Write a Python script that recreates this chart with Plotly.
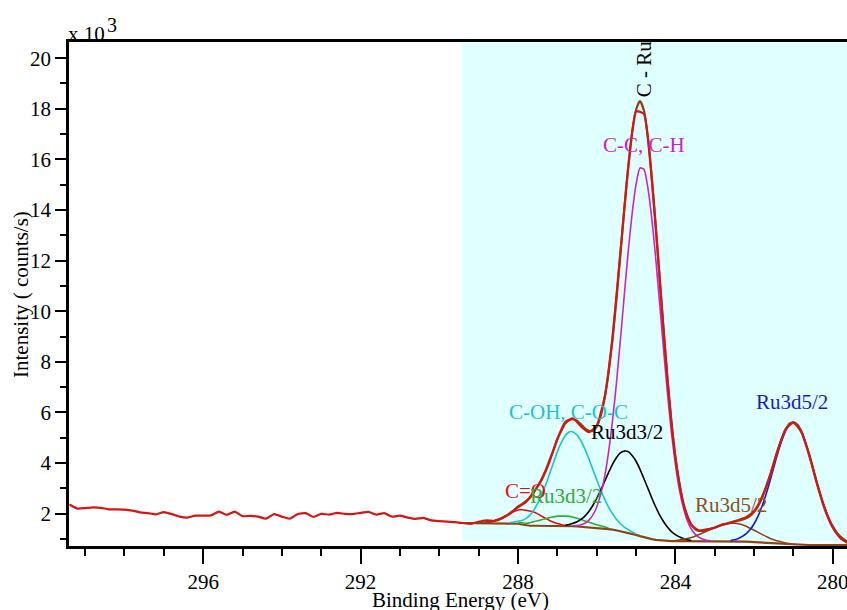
import numpy as np
import plotly.graph_objects as go

# ---------------- data (intensity in thousands of counts/s) ----------------
raw_energy = np.round(299.4 - 0.2 * np.arange(100), 1)
raw_counts = [
    2.36, 2.20, 2.22, 2.25, 2.23, 2.17, 2.17, 2.16, 2.12, 2.05,
    2.02, 1.97, 2.06, 1.98, 1.88, 1.84, 1.92, 1.92, 1.93, 2.08,
    1.95, 2.08, 1.90, 1.91, 1.88, 1.80, 1.98, 1.88, 1.80, 1.98,
    2.02, 1.87, 1.99, 1.96, 2.03, 1.99, 1.98, 2.03, 2.07, 1.96,
    2.02, 1.88, 1.92, 1.84, 1.79, 1.83, 1.73, 1.70, 1.68, 1.66,
    1.63, 1.59, 1.68, 1.73, 1.71, 1.82, 2.00, 2.26, 2.45, 2.86,
    3.34, 4.05, 4.95, 5.62, 5.76, 5.45, 5.22, 5.48, 6.60, 8.95,
    12.30, 15.65, 17.90, 17.80, 15.20, 11.30, 7.30, 4.20, 2.40, 1.56,
    1.33, 1.38, 1.44, 1.58, 1.63, 1.75, 1.86, 2.10, 2.66, 3.50,
    4.52, 5.33, 5.60, 5.22, 4.30, 3.15, 2.15, 1.44, 1.02, 0.82,
]

fit_start = 289.5
fit_energy = np.round(fit_start - 0.1 * np.arange(100), 1)
background = [
    1.63, 1.63, 1.63, 1.63, 1.63, 1.63, 1.63, 1.63,
    1.62, 1.62, 1.62, 1.62, 1.62, 1.62,
    1.61, 1.60, 1.57, 1.53,
    1.52, 1.52, 1.52, 1.52,
    1.51, 1.51, 1.51, 1.51,
    1.50, 1.50, 1.50, 1.50,
    1.49, 1.48, 1.47, 1.46, 1.45, 1.44, 1.43, 1.41, 1.39, 1.37,
    1.34, 1.31, 1.27, 1.24, 1.20, 1.16, 1.11, 1.06, 1.02, 0.99,
    0.96, 0.94, 0.93, 0.92, 0.91,
    0.91, 0.91, 0.91, 0.91, 0.91, 0.91, 0.91, 0.91, 0.91, 0.91, 0.91,
    0.90, 0.90, 0.90, 0.90, 0.90, 0.90, 0.90,
    0.89, 0.88, 0.87, 0.86, 0.85, 0.84, 0.83, 0.82, 0.81, 0.80, 0.79, 0.79, 0.78,
    0.77, 0.77, 0.76, 0.76, 0.76, 0.76, 0.76, 0.76, 0.76, 0.76, 0.76, 0.76, 0.76, 0.76,
]

# component heights above background, 0.1 eV steps starting at the given energy
co_start = 288.8
co_height = [0.04, 0.06, 0.10, 0.15, 0.22, 0.30, 0.38, 0.47, 0.54, 0.58, 0.60,
             0.58, 0.54, 0.47, 0.38, 0.30, 0.22, 0.15, 0.10, 0.06, 0.04]
ru33_small_start = 288.0
ru33_small_height = [0.045, 0.065, 0.09, 0.12, 0.16, 0.20, 0.24, 0.29, 0.33, 0.36, 0.39, 0.40,
                     0.40, 0.39, 0.36, 0.33, 0.29, 0.24, 0.20, 0.16, 0.12, 0.09, 0.065, 0.045]
coh_start = 288.2
coh_height = [0.03, 0.06, 0.10, 0.16, 0.27, 0.41, 0.62, 0.88, 1.22, 1.61, 2.05, 2.50, 2.94,
              3.31, 3.58, 3.73, 3.73, 3.62, 3.39, 3.08, 2.71, 2.30, 1.90, 1.51, 1.17, 0.87,
              0.63, 0.44, 0.30, 0.20, 0.13, 0.08, 0.04]
ru33_start = 286.8
ru33_height = [0.04, 0.07, 0.12, 0.19, 0.29, 0.43, 0.62, 0.87, 1.16, 1.49, 1.86, 2.23, 2.58,
               2.87, 3.09, 3.20, 3.21, 3.10, 2.91, 2.64, 2.32, 1.98, 1.63, 1.30, 1.00, 0.75,
               0.54, 0.38, 0.26, 0.17, 0.11, 0.06, 0.03]
cc_start = 286.6
cc_height = [0.02, 0.04, 0.08, 0.15, 0.28, 0.49, 0.82, 1.33, 2.04, 3.03, 4.28, 5.80, 7.53,
             9.35, 11.12, 12.66, 13.85, 14.55, 14.55, 13.85, 12.66, 11.12, 9.35, 7.53, 5.80,
             4.28, 3.03, 2.04, 1.33, 0.82, 0.49, 0.28, 0.15, 0.08, 0.04, 0.02]
ru35_small_start = 284.0
ru35_small_height = [0.03, 0.05, 0.08, 0.11, 0.15, 0.20, 0.26, 0.33, 0.40, 0.47, 0.54, 0.61,
                     0.66, 0.70, 0.72, 0.72, 0.70, 0.66, 0.61, 0.54, 0.47, 0.40, 0.33, 0.26,
                     0.20, 0.15, 0.11, 0.08, 0.05, 0.03]
ru35_start = 282.6
ru35_height = [0.04, 0.07, 0.12, 0.20, 0.32, 0.49, 0.73, 1.04, 1.44, 1.91, 2.44, 3.01, 3.57,
               4.07, 4.48, 4.74, 4.83, 4.74, 4.48, 4.07, 3.57, 3.01, 2.44, 1.91, 1.44, 1.04,
               0.73, 0.49, 0.32, 0.20, 0.12]

x_major_ticks = [296, 292, 288, 284, 280]

# ---------------- build figure ----------------
FONT = "Liberation Serif, Times New Roman, serif"
bg = np.array(background)

components = [
    (co_start, co_height, "#e01010"),
    (ru33_small_start, ru33_small_height, "#33aa33"),
    (coh_start, coh_height, "#1cc4c4"),
    (ru33_start, ru33_height, "#000000"),
    (cc_start, cc_height, "#cc22cc"),
    (ru35_small_start, ru35_small_height, "#8b4513"),
    (ru35_start, ru35_height, "#1a1acc"),
]

fig = go.Figure()
envelope = bg.copy()
comp_traces = []
for start, heights, color in components:
    i0 = int(round((fit_start - start) / 0.1))
    idx = np.arange(i0, i0 + len(heights))
    envelope[idx] += np.array(heights)
    comp_traces.append(go.Scatter(
        x=fit_energy[idx], y=bg[idx] + np.array(heights), mode="lines",
        line=dict(color=color, width=1.6, shape="spline", smoothing=0.6),
        hoverinfo="skip", showlegend=False))

fig.add_trace(go.Scatter(x=fit_energy, y=bg, mode="lines",
                         line=dict(color="#8b4513", width=2.2),
                         hoverinfo="skip", showlegend=False))
for tr in comp_traces:
    fig.add_trace(tr)
fig.add_trace(go.Scatter(x=fit_energy, y=envelope, mode="lines",
                         line=dict(color="#8b4513", width=2.2, shape="spline", smoothing=0.6),
                         hoverinfo="skip", showlegend=False))
fig.add_trace(go.Scatter(x=raw_energy, y=raw_counts, mode="lines",
                         line=dict(color="#d41616", width=2.2, shape="spline", smoothing=0.5),
                         hoverinfo="skip", showlegend=False))

# shaded fit region
fig.add_shape(type="rect", xref="x", yref="y", x0=289.42, x1=279.64, y0=0.91, y1=20.64,
              fillcolor="#e0ffff", line=dict(width=0), layer="below")

labels = [
    ("C - Ru", 284.81, 19.58, "#000000", -90),
    ("C-C, C-H", 284.80, 16.58, "#cc22cc", 0),
    ("C-OH, C-O-C", 286.71, 6.03, "#1cc4c4", 0),
    ("Ru3d3/2", 285.24, 5.24, "#000000", 0),
    ("C=O", 287.82, 2.91, "#e01010", 0),
    ("Ru3d3/2", 286.78, 2.71, "#33aa33", 0),
    ("Ru3d5/2", 282.58, 2.36, "#8b5220", 0),
    ("Ru3d5/2", 281.05, 6.43, "#1a1acc", 0),
]
for text, xx, yy, col, ang in labels:
    fig.add_annotation(x=xx, y=yy, xref="x", yref="y", text=text, showarrow=False,
                       textangle=ang, xanchor="center", yanchor="middle",
                       font=dict(family=FONT, size=21, color=col))

# axis titles and multiplier
fig.add_annotation(x=-0.0617, y=0.5, xref="paper", yref="paper",
                   text="Intensity ( counts/s)", showarrow=False, textangle=-90,
                   xanchor="center", yanchor="middle",
                   font=dict(family=FONT, size=21, color="black"))
fig.add_annotation(x=0.5026, y=-0.080, xref="paper", yref="paper",
                   text="Binding Energy (eV)", showarrow=False,
                   xanchor="center", yanchor="top",
                   font=dict(family=FONT, size=21, color="black"))
fig.add_annotation(x=-0.002, y=0.99, xref="paper", yref="paper",
                   text="x 10", showarrow=False, xanchor="left", yanchor="bottom",
                   borderpad=0, font=dict(family=FONT, size=21, color="black"))
fig.add_annotation(x=0.0476, y=1.009, xref="paper", yref="paper",
                   text="3", showarrow=False, xanchor="left", yanchor="bottom",
                   borderpad=0, font=dict(family=FONT, size=20, color="black"))

fig.update_layout(
    width=847, height=610,
    margin=dict(l=69, r=0, t=42, b=64, pad=0, autoexpand=False),
    paper_bgcolor="white", plot_bgcolor="white",
    showlegend=False,
    font=dict(family=FONT, size=21, color="black"),
    xaxis=dict(range=[299.41, 279.64], tickvals=x_major_ticks, automargin=False,
               ticklabeloverflow="allow",
               showline=True, linecolor="black", linewidth=2.5, mirror=True,
               ticks="outside", ticklen=15, tickwidth=2, tickcolor="black",
               tickfont=dict(family=FONT, size=21, color="black"),
               showgrid=False, zeroline=False,
               minor=dict(dtick=1, tick0=280, ticks="outside", ticklen=7, tickwidth=2,
                          tickcolor="black", showgrid=False)),
    yaxis=dict(range=[0.72, 20.64], dtick=2, tick0=0, automargin=False,
               showline=True, linecolor="black", linewidth=2.5, mirror=False,
               ticks="outside", ticklen=11, tickwidth=2, tickcolor="black",
               tickfont=dict(family=FONT, size=21, color="black"),
               showgrid=False, zeroline=False,
               minor=dict(dtick=1, tick0=0, ticks="outside", ticklen=6, tickwidth=2,
                          tickcolor="black", showgrid=False)),
)

# remove the page's default body margin so the figure fills the window exactly
fig.write_html("out.html",
               config={"displayModeBar": False},
               post_script="document.body.style.margin='0px';"
                           "document.body.style.overflow='hidden';")
